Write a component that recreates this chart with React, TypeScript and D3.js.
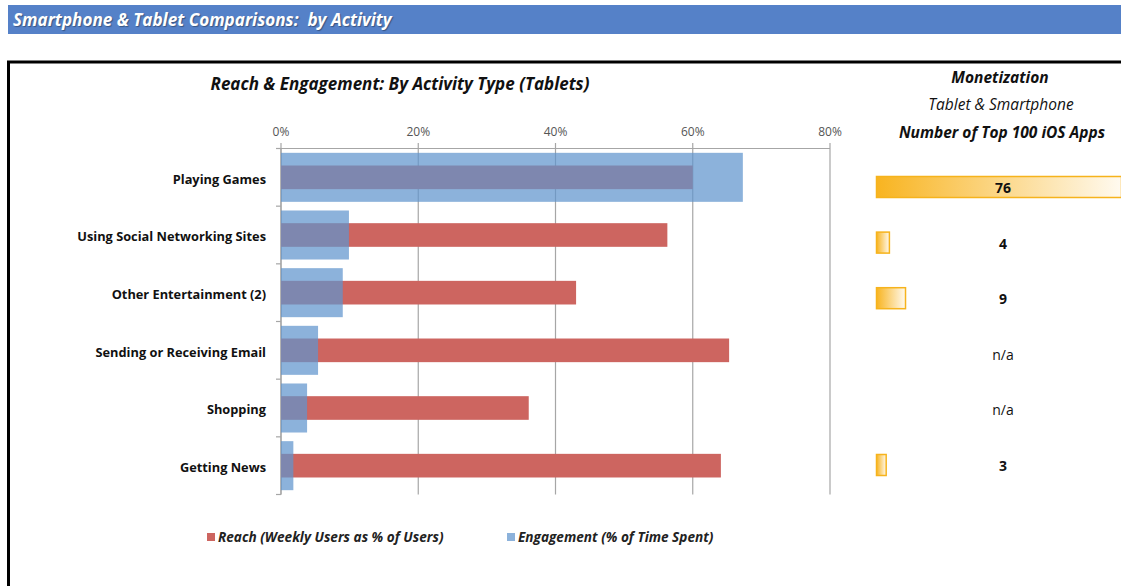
import React from "react";
import * as d3 from "d3";

const categories = [
  "Playing Games",
  "Using Social Networking Sites",
  "Other Entertainment (2)",
  "Sending or Receiving Email",
  "Shopping",
  "Getting News",
];
const reach = [60, 56.3, 43, 65.3, 36.1, 64.1];
const engagement = [67.3, 9.9, 9, 5.4, 3.8, 1.8];
const topApps: (number | null)[] = [76, 4, 9, null, null, 3];
const xTicks = [0, 20, 40, 60, 80];

const FONT = "'Open Sans', Lato, sans-serif";

export default function App() {
  const x = d3.scaleLinear().domain([0, 80]).range([281, 830]);
  const y = d3.scaleBand<string>().domain(categories).range([148.5, 494.5]).paddingInner(0).paddingOuter(0);
  const step = y.step();
  const blueH = step * 0.85;
  const redH = step * 0.41;

  const rowY = d3.scalePoint<string>().domain(categories).range([187, 465]);
  const appX = d3.scaleLinear().domain([0, 76]).range([0, 245]);

  return (
    <svg
      width={1121}
      height={586}
      style={{ position: "absolute", left: 0, top: 0, background: "#fff" }}
      fontFamily={FONT}
    >
      <defs>
        <linearGradient id="dataBar" x1="0" x2="1" y1="0" y2="0">
          <stop offset="0%" stopColor="#f8b420" />
          <stop offset="100%" stopColor="#fffaf0" />
        </linearGradient>
      </defs>

      {/* header band */}
      <rect x={8} y={5} width={1113} height={29} fill="#5581c8" />
      <text x={13} y={26} fill="#fff" fontSize={17.1} fontWeight="bold" fontStyle="italic"
        style={{ textShadow: "1px 1px 1px rgba(0,0,0,0.35)", whiteSpace: "pre" }}>
        {"Smartphone & Tablet Comparisons:  by Activity"}
      </text>

      {/* frame */}
      <rect x={8.5} y={62} width={1130} height={540} fill="none" stroke="#000" strokeWidth={3} />

      {/* chart title */}
      <text x={400} y={90} textAnchor="middle" fontSize={17} fontWeight="bold" fontStyle="italic" fill="#111">
        Reach &amp; Engagement: By Activity Type (Tablets)
      </text>

      {/* gridlines */}
      {xTicks.map((t) => (
        <g key={t}>
          <line x1={x(t)} x2={x(t)} y1={143} y2={494.5} stroke="#a6a6a6" strokeWidth={1.2} />
          <text x={x(t)} y={136} textAnchor="middle" fontSize={12} fill="#555">
            {t}%
          </text>
        </g>
      ))}
      {/* top axis line */}
      <line x1={281} x2={830} y1={148.5} y2={148.5} stroke="#a6a6a6" strokeWidth={1.2} />
      {/* left axis */}
      <line x1={281} x2={281} y1={148.5} y2={494.5} stroke="#a6a6a6" strokeWidth={1.2} />
      {categories.map((c, i) => (
        <line key={"tk" + i} x1={276} x2={281} y1={(y(c) as number) + step} y2={(y(c) as number) + step}
          stroke="#a6a6a6" strokeWidth={1.2} />
      ))}
      <line x1={276} x2={281} y1={148.5} y2={148.5} stroke="#a6a6a6" strokeWidth={1.2} />

      {/* bars */}
      {categories.map((c, i) => {
        const cy = (y(c) as number) + step / 2;
        return (
          <g key={c}>
            <rect x={x(0)} y={cy - redH / 2} width={x(reach[i]) - x(0)} height={redH} fill="#cd6560" />
            <rect x={x(0)} y={cy - blueH / 2} width={x(engagement[i]) - x(0)} height={blueH}
              fill="rgb(95,148,205)" fillOpacity={0.72} />
            <text x={266} y={cy + 2} dy="0.35em" textAnchor="end" fontSize={12.8} fontWeight="bold" fill="#111">
              {c}
            </text>
          </g>
        );
      })}

      {/* legend */}
      <rect x={207} y={533} width={8} height={8} fill="#cd6560" />
      <text x={218} y={541.5} fontSize={13.6} fontStyle="italic" fontWeight="bold" fill="#222">
        Reach (Weekly Users as % of Users)
      </text>
      <rect x={507} y={533} width={8} height={8} fill="#8cb2db" />
      <text x={518} y={541.5} fontSize={13.6} fontStyle="italic" fontWeight="bold" fill="#222">
        Engagement (% of Time Spent)
      </text>

      {/* right panel */}
      <text x={1000} y={83} textAnchor="middle" fontSize={15.5} fontWeight="bold" fontStyle="italic" fill="#111">
        Monetization
      </text>
      <text x={1001} y={110} textAnchor="middle" fontSize={15.5} fontStyle="italic" fill="#111">
        Tablet &amp; Smartphone
      </text>
      <text x={1002} y={138} textAnchor="middle" fontSize={15.5} fontWeight="bold" fontStyle="italic" fill="#111">
        Number of Top 100 iOS Apps
      </text>
      {categories.map((c, i) => {
        const v = topApps[i];
        const cy = rowY(c) as number;
        return (
          <g key={"app" + i}>
            {v !== null && (
              <rect x={876.5} y={cy - 10.5} width={appX(v)} height={21} fill="url(#dataBar)"
                stroke="#f6b31c" strokeWidth={1.5} />
            )}
            <text x={1003} y={cy + 1} dy="0.35em" textAnchor="middle" fontSize={14}
              fontWeight={v !== null ? "bold" : "normal"} fill="#111">
              {v !== null ? v : "n/a"}
            </text>
          </g>
        );
      })}
    </svg>
  );
}
